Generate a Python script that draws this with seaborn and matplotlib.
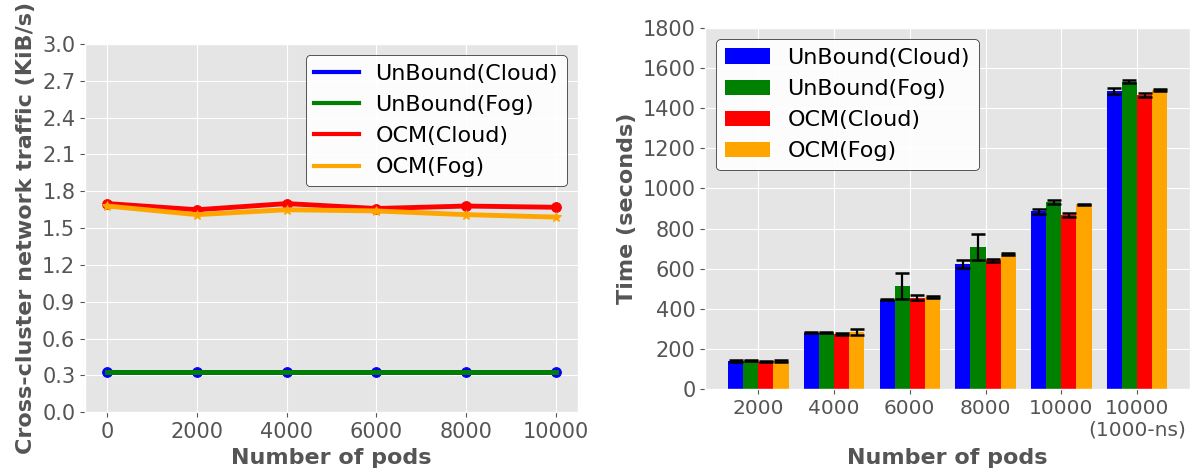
import pandas as pd
import numpy as np
import matplotlib
matplotlib.use("Agg")
import matplotlib.pyplot as plt
import seaborn as sns

# series names and colours
series = ['UnBound(Cloud)', 'UnBound(Fog)', 'OCM(Cloud)', 'OCM(Fog)']
colors = ['blue', 'green', 'red', 'orange']

# left: cross-cluster traffic (KiB/s)
pods = [0, 2000, 4000, 6000, 8000, 10000]
traffic_unbound_cloud = [0.33, 0.33, 0.33, 0.33, 0.33, 0.33]
traffic_unbound_fog = [0.33, 0.33, 0.33, 0.33, 0.33, 0.33]
traffic_ocm_cloud = [1.70, 1.65, 1.70, 1.66, 1.68, 1.67]
traffic_ocm_fog = [1.68, 1.61, 1.65, 1.64, 1.61, 1.59]
markers = ['o', None, 'o', '*']

# right: time (seconds) with error
groups = ['2000', '4000', '6000', '8000', '10000', '10000\n(1000-ns)']
time_unbound_cloud = [140, 280, 445, 622, 887, 1487]
time_unbound_fog = [142, 281, 512, 706, 931, 1532]
time_ocm_cloud = [136, 275, 455, 642, 870, 1468]
time_ocm_fog = [140, 285, 460, 672, 920, 1490]
err_unbound_cloud = [3, 3, 3, 20, 12, 15]
err_unbound_fog = [3, 3, 65, 65, 9, 7]
err_ocm_cloud = [3, 5, 12, 8, 10, 10]
err_ocm_fog = [7, 15, 5, 4, 3, 5]

plt.style.use('ggplot')
plt.rcParams['font.family'] = ['DejaVu Sans']

fig = plt.figure(figsize=(12.04, 4.73), dpi=100)
ax1 = fig.add_axes([0.0706, 0.1283, 0.4095, 0.7787])
ax2 = fig.add_axes([0.5858, 0.1776, 0.4026, 0.7632])

# ---- left: line plot
traffic = [traffic_unbound_cloud, traffic_unbound_fog, traffic_ocm_cloud, traffic_ocm_fog]
for name, vals, c, m in zip(series, traffic, colors, markers):
    sns.lineplot(x=pods, y=vals, ax=ax1, color=c, marker=m, markersize=7,
                 markeredgecolor=c, linewidth=3.5, label=name)

ax1.set_xlim(-500, 10500)
ax1.set_ylim(0, 3.0)
ax1.set_xticks(pods)
ax1.set_yticks(np.arange(0, 3.01, 0.3))
ax1.set_yticklabels([f"{v:.1f}" for v in np.arange(0, 3.01, 0.3)])
ax1.tick_params(labelsize=15)
ax1.set_xlabel("Number of pods", fontsize=16, fontweight='bold', labelpad=4)
ax1.set_ylabel("Cross-cluster network traffic (KiB/s)", fontsize=16,
               fontweight='bold', labelpad=4)
leg1 = ax1.legend(loc='upper right', fontsize=16, facecolor='white',
                  edgecolor='black', framealpha=0.9, handletextpad=0.75)
for line in leg1.get_lines():
    line.set_marker('')
    line.set_linewidth(3)

# ---- right: grouped bars
times = [time_unbound_cloud, time_unbound_fog, time_ocm_cloud, time_ocm_fog]
errs = [err_unbound_cloud, err_unbound_fog, err_ocm_cloud, err_ocm_fog]
rows = []
for name, vals in zip(series, times):
    for g, v in zip(groups, vals):
        rows.append({'pods': g, 'time': v, 'series': name})
df = pd.DataFrame(rows)

sns.barplot(data=df, x='pods', y='time', hue='series', hue_order=series,
            palette=colors, saturation=1, errorbar=None, width=0.8, ax=ax2)

for cont, e in zip(ax2.containers, errs):
    xs = [b.get_x() + b.get_width() / 2 for b in cont]
    ys = [b.get_height() for b in cont]
    ax2.errorbar(xs, ys, yerr=e, fmt='none', ecolor='black', elinewidth=1.6,
                 capsize=5, capthick=1.8)

ax2.set_xlim(-0.7, 5.7)
ax2.set_ylim(0, 1800)
ax2.set_yticks(range(0, 1801, 200))
ax2.tick_params(axis='y', labelsize=15)
ax2.tick_params(axis='x', labelsize=14.5)
ax2.set_xlabel("Number of pods", fontsize=16, fontweight='bold', labelpad=6)
ax2.set_ylabel("Time (seconds)", fontsize=16, fontweight='bold', labelpad=4)
ax2.grid(True, axis='both', color='white')
ax2.legend(loc='upper left', fontsize=16, facecolor='white', edgecolor='black',
           framealpha=0.9, title=None)

fig.savefig("out.png", dpi=100)
